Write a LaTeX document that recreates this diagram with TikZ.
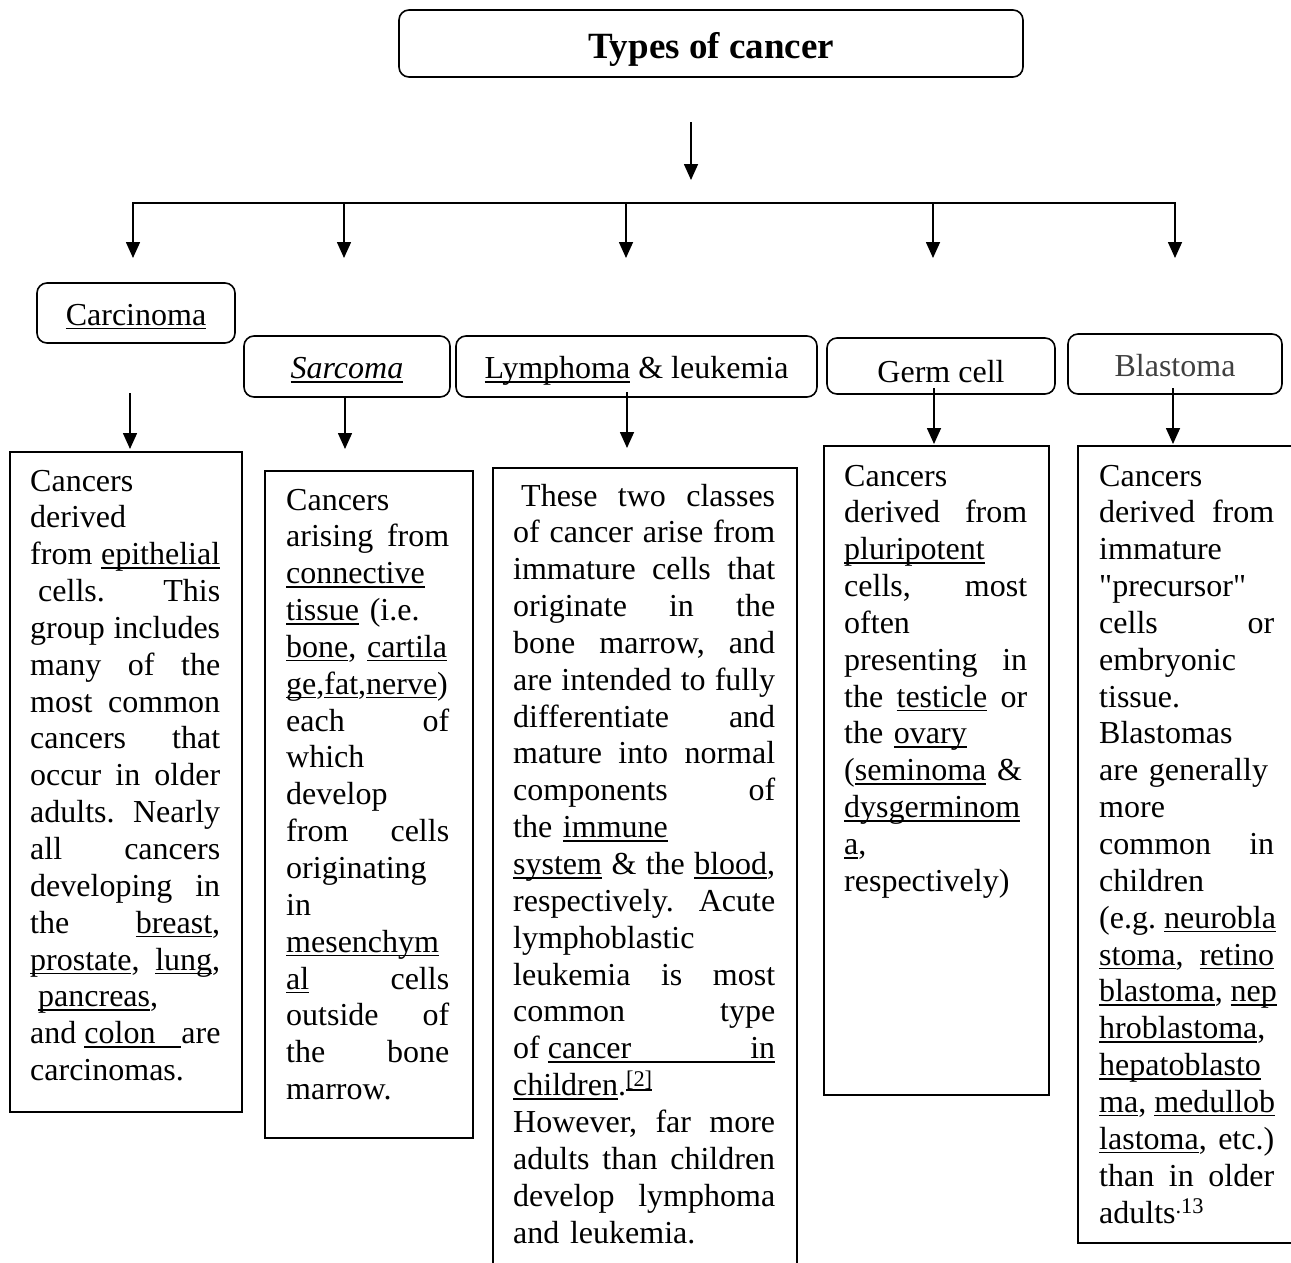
\documentclass[tikz,border=0pt]{standalone}
\usepackage{fontspec}
\setmainfont{Liberation Serif}[Ligatures=TeXOff]
\usepackage{tikz}
\usetikzlibrary{arrows.meta,positioning}
\frenchspacing
\newcommand\undl[1]{\setbox0\hbox{#1}\rlap{\rule[-4pt]{\wd0}{1.5pt}}\box0\relax}
\newcommand\ulfill{\leaders\hrule height -2.5pt depth 4pt\hfill}
\newcommand\jline[1]{{\spaceskip=\fontdimen2\font plus 1fil\relax\makebox[\hsize][s]{#1}}}
\newcommand\lline[1]{\makebox[\hsize][l]{#1}}
\newcommand\bodyfont{\fontsize{32}{36.85}\selectfont}
\newcommand\titlefont{\fontsize{37}{44}\selectfont\bfseries}
\tikzset{
  hdr/.style={draw,rounded corners=10pt,line width=1.6pt,inner sep=0pt,
    font=\bodyfont,text height=30pt,text depth=6pt},
  tbox/.style={draw,line width=1.6pt,inner sep=0pt,anchor=north west},
  txt/.style={inner sep=0pt,anchor=base west,align=left,font=\bodyfont},
  bar/.style={line width=1.6pt,line cap=rect},
  arr/.style={line width=1.6pt,-{Triangle[length=16pt,width=14pt]}}
}

\begin{document}
\begin{tikzpicture}[x=1pt,y=1pt]
  % page
  \useasboundingbox (0,0) rectangle (1291,-1262);
  \clip (0,0) rectangle (1291,-1262);
  % title
  \node[hdr,font=\titlefont,minimum width=624pt,minimum height=67pt,
    text height=32pt,text depth=3pt] (types) at (711,-43.5) {Types of cancer};
  \coordinate (t1) at (691,-122);
  \coordinate (t2) at (691,-180);
  \draw[arr] (t1) -- (t2);
  % bar with arrows
  \coordinate (barL) at (133,-203);
  \coordinate (barR) at (1175,-203);
  \draw[bar] (barL) -- (barR);
  \foreach \x [count=\i] in {133,344,626,933,1175} {
    \coordinate (d\i) at (\x,-203);
    \coordinate (h\i) at (\x,-258);
    \draw[arr] (d\i) -- (h\i);
  }
  % headers
  \node[hdr,minimum width=198pt,minimum height=60pt] (car) at (136,-313) {\undl{Carcinoma}};
  \node[hdr,minimum width=206pt,minimum height=61pt] (sar) at (347,-366.5) {\undl{\itshape Sarcoma}};
  \node[hdr,minimum width=361pt,minimum height=61pt] (lym) at (636.5,-366.5) {\undl{Lymphoma} \& leukemia};
  \node[hdr,minimum width=228pt,minimum height=56pt,text height=32pt,text depth=0pt] (germ) at (941,-366) {Germ cell};
  \node[hdr,minimum width=214pt,minimum height=60pt,text=black!75] (blast) at (1175,-364) {Blastoma};
  % text boxes
  \node[tbox,minimum width=232pt,minimum height=660pt] (carbox) at (9,-451) {};
  \node[tbox,minimum width=208pt,minimum height=667pt] (sarbox) at (264,-470) {};
  \node[tbox,minimum width=304pt,minimum height=850pt] (lymbox) at (492,-467) {};
  \node[tbox,minimum width=225pt,minimum height=649pt] (germbox) at (823,-445) {};
  \node[tbox,minimum width=240pt,minimum height=797pt] (blastbox) at (1077,-445) {};
  % arrows to text boxes
  \foreach \x/\ya/\yb [count=\i] in {130/393/449,345/397/449,627/392/448,934/388/444,1173/388/444} {
    \coordinate (s\i) at (\x,-\ya);
    \coordinate (e\i) at (\x,-\yb);
    \draw[arr] (s\i) -- (e\i);
  }
  % texts
  \node[txt,text width=190pt] (cartxt) at (30,-491) {%
    \lline{Cancers}\\
    \lline{derived}\\
    \jline{from \undl{epithelial}}\\
    \jline{\hspace{8pt}cells. This}\\
    \jline{group includes}\\
    \jline{many of the}\\
    \jline{most common}\\
    \jline{cancers that}\\
    \jline{occur in older}\\
    \jline{adults. Nearly}\\
    \jline{all cancers}\\
    \jline{developing in}\\
    \jline{the \undl{breast},}\\
    \jline{\undl{prostate}, \undl{lung},}\\
    \lline{\hspace{8pt}\undl{pancreas},}\\
    \jline{and \undl{colon\hspace{26pt}}are}\\
    \lline{carcinomas.}};
  \node[txt,text width=163pt] (sartxt) at (286,-510) {%
    \lline{Cancers}\\
    \jline{arising from}\\
    \lline{\undl{connective}}\\
    \lline{\undl{tissue} (i.e.}\\
    \lline{\undl{bone}, \undl{cartila}}\\
    \lline{\undl{ge},\undl{fat},\undl{nerve})}\\
    \jline{each of}\\
    \lline{which}\\
    \lline{develop}\\
    \jline{from cells}\\
    \lline{originating}\\
    \lline{in}\\
    \lline{\undl{mesenchym}}\\
    \jline{\undl{al} cells}\\
    \jline{outside of}\\
    \jline{the bone}\\
    \lline{marrow.}};
  \node[txt,text width=262pt] (lymtxt) at (513,-506) {%
    \jline{\hspace{8pt}These two classes}\\
    \jline{of cancer arise from}\\
    \jline{immature cells that}\\
    \jline{originate in the}\\
    \jline{bone marrow, and}\\
    \jline{are intended to fully}\\
    \jline{differentiate and}\\
    \jline{mature into normal}\\
    \jline{components of}\\
    \lline{the \undl{immune}}\\
    \jline{\undl{system} \& the \undl{blood},}\\
    \jline{respectively. Acute}\\
    \lline{lymphoblastic}\\
    \jline{leukemia is most}\\
    \jline{common type}\\
    \jline{of \undl{cancer}\ulfill\undl{in}}\\
    \lline{\undl{children}.\textsuperscript{\undl{[2]}}}\\
    \jline{However, far more}\\
    \jline{adults than children}\\
    \jline{develop lymphoma}\\
    \lline{and leukemia.}};
  \node[txt,text width=183pt] (germtxt) at (844,-486) {%
    \lline{Cancers}\\
    \jline{derived from}\\
    \lline{\undl{pluripotent}}\\
    \jline{cells, most}\\
    \lline{often}\\
    \jline{presenting in}\\
    \jline{the \undl{testicle} or}\\
    \lline{the \undl{ovary}}\\
    \lline{(\undl{seminoma} \&}\\
    \lline{\undl{dysgerminom}}\\
    \lline{\undl{a},}\\
    \lline{respectively)}};
  \node[txt,text width=175pt] (blasttxt) at (1099,-486) {%
    \lline{Cancers}\\
    \jline{derived from}\\
    \lline{immature}\\
    \lline{"precursor"}\\
    \jline{cells or}\\
    \lline{embryonic}\\
    \lline{tissue.}\\
    \lline{Blastomas}\\
    \lline{are generally}\\
    \lline{more}\\
    \jline{common in}\\
    \lline{children}\\
    \jline{(e.g. \undl{neurobla}}\\
    \jline{\undl{stoma}, \undl{retino}}\\
    \jline{\undl{blastoma}, \undl{nep}}\\
    \lline{\undl{hroblastoma},}\\
    \lline{\undl{hepatoblasto}}\\
    \jline{\undl{ma}, \undl{medullob}}\\
    \jline{\undl{lastoma}, etc.)}\\
    \jline{than in older}\\
    \lline{adults\textsuperscript{.13}}};
\end{tikzpicture}
\end{document}
